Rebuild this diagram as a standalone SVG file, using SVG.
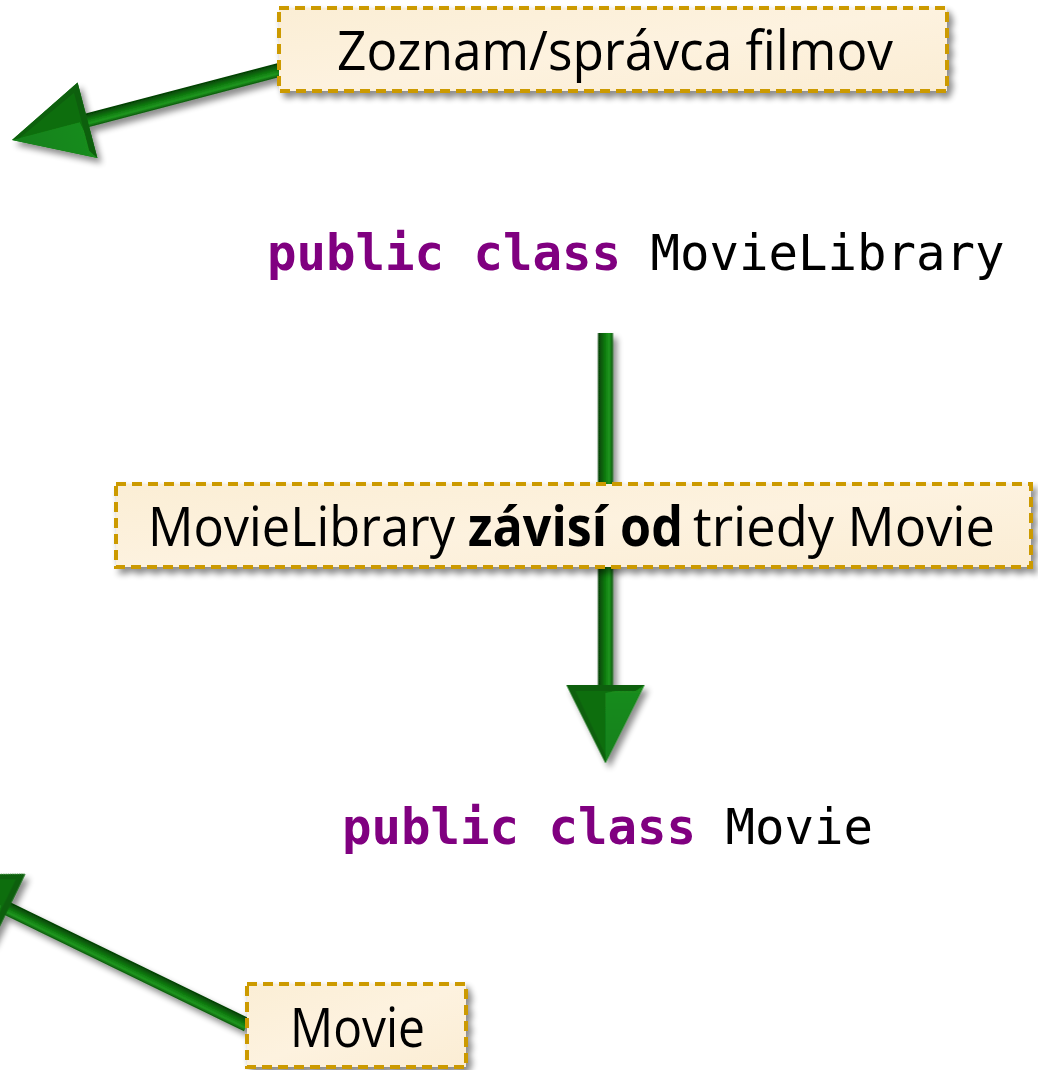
<svg xmlns="http://www.w3.org/2000/svg" width="1038" height="1070" viewBox="0 0 1038 1070">
  <style>
    .note rect { fill: url(#paper); stroke: #cc9a00; stroke-width: 4; stroke-dasharray: 10 6; }
    .note text { font-family: "Open Sans", "DejaVu Sans", sans-serif; font-size: 55px; fill: #000; }
    .code { font-family: "DejaVu Sans Mono", "Liberation Mono", monospace; font-size: 49px; fill: #000; }
    .kw { fill: #800080; font-weight: bold; }
    .shaft { fill: url(#shaftGrad); }
  </style>
  <defs>
    <linearGradient id="paper" x1="0" y1="0" x2="1" y2="1">
      <stop offset="0" stop-color="#fbeed5"/>
      <stop offset="0.5" stop-color="#fdf2df"/>
      <stop offset="1" stop-color="#fbedd4"/>
    </linearGradient>
    <linearGradient id="shaftGrad" x1="0" y1="0" x2="0" y2="1">
      <stop offset="0" stop-color="#0a560a"/>
      <stop offset="0.25" stop-color="#1f971f"/>
      <stop offset="0.55" stop-color="#0e780e"/>
      <stop offset="1" stop-color="#043c04"/>
    </linearGradient>
    <linearGradient id="headLight" x1="0" y1="0" x2="1" y2="0">
      <stop offset="0" stop-color="#1a8c1a"/>
      <stop offset="1" stop-color="#12801a"/>
    </linearGradient>
    <filter id="shadow" x="-20%" y="-20%" width="140%" height="140%">
      <feGaussianBlur in="SourceAlpha" stdDeviation="3"/>
      <feOffset dx="4" dy="5" result="blur"/>
      <feComponentTransfer><feFuncA type="linear" slope="0.45"/></feComponentTransfer>
      <feMerge><feMergeNode/><feMergeNode in="SourceGraphic"/></feMerge>
    </filter>
    <!-- arrowhead pointing along +x, tip at origin, 78 long, 78 wide -->
    <g id="head">
      <polygon points="-78,-39 0,0 -78,39" fill="#0b6e0b"/>
      <polygon points="-78,-39 0,0 -70,0" fill="url(#headLight)"/>
      <polygon points="-78,-39 -72,-30 -72,30 -78,39" fill="#0a5e0a"/>
      <polygon points="-78,39 0,0 -8,0 -72,30" fill="#086008"/>
    </g>
  </defs>

  <!-- connectors -->
  <g id="connectors" filter="url(#shadow)">
    <g id="edge-note-library" transform="translate(279,70) rotate(165.3)">
      <rect class="shaft" x="0" y="-7" width="202" height="14"/>
      <use href="#head" transform="translate(276,0)"/>
    </g>
    <g id="edge-library-movie" transform="translate(605.5,333) rotate(90)">
      <rect class="shaft" x="0" y="-7.5" width="356" height="15"/>
      <use href="#head" transform="translate(430,0)"/>
    </g>
    <g id="edge-note-movie" transform="translate(247,1025) rotate(-154.1)">
      <rect class="shaft" x="0" y="-7" width="270" height="14"/>
      <use href="#head" transform="translate(343.5,0)"/>
    </g>
  </g>

  <!-- class declarations -->
  <g id="movie-library">
    <text class="code" x="267" y="270"><tspan class="kw">public class</tspan> MovieLibrary</text>
  </g>
  <g id="movie">
    <text class="code" x="342" y="844"><tspan class="kw">public class</tspan> Movie</text>
  </g>

  <!-- notes -->
  <g id="note-library" class="note" filter="url(#shadow)">
    <rect x="279" y="8" width="668" height="83"/>
    <text x="337" y="70" textLength="556" lengthAdjust="spacingAndGlyphs">Zoznam/správca filmov</text>
  </g>
  <g id="note-dependency" class="note" filter="url(#shadow)">
    <rect x="116" y="484" width="915" height="83"/>
    <text y="546"><tspan x="148" textLength="307" lengthAdjust="spacingAndGlyphs">MovieLibrary</tspan><tspan x="468" font-weight="bold" textLength="215" lengthAdjust="spacingAndGlyphs">závisí od</tspan><tspan x="693" textLength="302" lengthAdjust="spacingAndGlyphs">triedy Movie</tspan></text>
  </g>
  <g id="note-movie" class="note" filter="url(#shadow)">
    <rect x="247" y="984" width="219" height="83"/>
    <text x="290" y="1047" textLength="135" lengthAdjust="spacingAndGlyphs">Movie</text>
  </g>
</svg>
